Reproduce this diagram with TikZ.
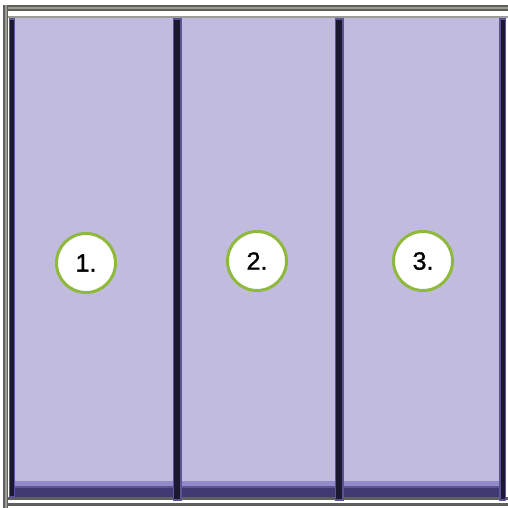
\documentclass[tikz,border=0pt]{standalone}
\usepackage{fontspec}
\setmainfont{Liberation Sans}
\newfontfamily\numfont[FakeBold=1.2]{Liberation Sans}
\definecolor{panel}{HTML}{C1BCDD}
\definecolor{bandA}{HTML}{938BC9}
\definecolor{bandB}{HTML}{3F3A72}
\definecolor{post}{HTML}{1B1930}
\definecolor{postedge}{HTML}{5C5494}
\definecolor{rail}{HTML}{5E605C}
\definecolor{raillight}{HTML}{9A9C98}
\definecolor{ring}{HTML}{8FB93C}
\begin{document}
\begin{tikzpicture}[x=1pt,y=-1pt,
  numcircle/.style={circle,draw=ring,line width=3pt,fill=white,minimum size=59pt,inner sep=0pt,font=\numfont\fontsize{25}{25}\selectfont},
  divider/.style={fill=post,draw=postedge,line width=1.5pt}]
\useasboundingbox (0,0) rectangle (508,508);
\fill[white] (0,0) rectangle (508,508);
% top rail
\fill[rail] (3,5) rectangle (508,11);
\fill[raillight] (3,7.5) rectangle (508,9);
\fill[white] (8,11) rectangle (508,16);
\fill[raillight] (8,16) rectangle (508,18.5);
% left outer post
\fill[rail] (3,5) rectangle (8,508);
\fill[raillight] (5,5) rectangle (6.5,508);
% panels
\fill[panel] (15,18.5) rectangle (500,497);
\fill[bandA] (15,481) rectangle (500,488);
\fill[bandB] (15,488) rectangle (500,497);
\fill[postedge] (15,486) rectangle (500,488);
% bottom rail
\fill[rail] (8,497) rectangle (508,500);
\fill[white] (8,500) rectangle (508,503);
\fill[rail] (8,503) rectangle (508,505.5);
% posts
\path[divider] (9.5,19) rectangle (14.5,497);
\path[divider] (173.5,19) rectangle (181,500);
\path[divider] (335.5,19) rectangle (343,500);
\path[divider] (500,19) rectangle (505.5,500);
% numbered circles
\node[numcircle] (c1) at (86,263) {1.};
\node[numcircle] (c2) at (257,261) {2.};
\node[numcircle] (c3) at (423,261) {3.};
\end{tikzpicture}
\end{document}
